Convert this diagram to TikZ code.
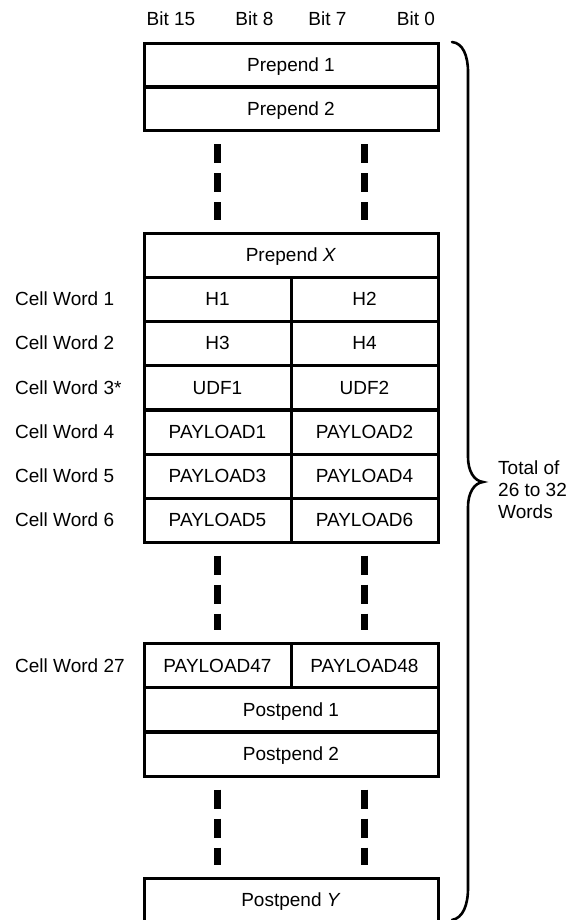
\documentclass[tikz,border=0pt]{standalone}
\usepackage{fontspec}
\setmainfont{Liberation Sans}
\begin{document}
\begin{tikzpicture}[x=1bp,y=-1bp,
  every node/.style={font=\fontsize{19bp}{22bp}\selectfont, inner sep=0pt},
  full/.style={draw, line width=3bp, minimum width=294bp, minimum height=44bp, text height=13.6bp, text depth=0pt},
  half/.style={draw, line width=3bp, minimum width=147bp, minimum height=44bp, text height=13.6bp, text depth=0pt},
  lbl/.style={anchor=west, text height=13.6bp, text depth=0pt},
  bitlbl/.style={text height=13.6bp, text depth=0pt},
  gap/.style={line width=7bp, dash pattern=on 19bp off 10bp, shorten <=12bp, shorten >=12bp},
  brace/.style={line width=2.6bp, line cap=round}]
\useasboundingbox (0,0) rectangle (571,920);
\clip (0,0) rectangle (571,920);

% bit labels
\node[bitlbl] (b15) at (171,19) {Bit 15};
\node[bitlbl] (b8) at (254.5,19) {Bit 8};
\node[bitlbl] (b7) at (327.5,19) {Bit 7};
\node[bitlbl] (b0) at (416,19) {Bit 0};

% prepend rows
\node[full] (p1) at (291,65) {Prepend 1};
\node[full] (p2) at (291,108.5) {Prepend 2};
\node[full] (px) at (291,255) {Prepend \textit{X}};

% cell words
\node[half] (h1) at (217.5,299) {H1};
\node[half] (h2) at (364.5,299) {H2};
\node[half] (h3) at (217.5,343) {H3};
\node[half] (h4) at (364.5,343) {H4};
\node[half] (u1) at (217.5,387.5) {UDF1};
\node[half] (u2) at (364.5,387.5) {UDF2};
\node[half] (pl1) at (217.5,432) {PAYLOAD1};
\node[half] (pl2) at (364.5,432) {PAYLOAD2};
\node[half] (pl3) at (217.5,476) {PAYLOAD3};
\node[half] (pl4) at (364.5,476) {PAYLOAD4};
\node[half] (pl5) at (217.5,520) {PAYLOAD5};
\node[half] (pl6) at (364.5,520) {PAYLOAD6};
\node[half] (pl47) at (217.5,665.5) {PAYLOAD47};
\node[half] (pl48) at (364.5,665.5) {PAYLOAD48};

% postpend rows
\node[full] (q1) at (291,709.5) {Postpend 1};
\node[full] (q2) at (291,754) {Postpend 2};
\node[full] (qy) at (291,900) {Postpend \textit{Y}};

% row labels
\node[lbl] (c1) at (15,299) {Cell Word 1};
\node[lbl] (c2) at (15,343) {Cell Word 2};
\node[lbl] (c3) at (15,387.5) {Cell Word 3*};
\node[lbl] (c4) at (15,432) {Cell Word 4};
\node[lbl] (c5) at (15,476) {Cell Word 5};
\node[lbl] (c6) at (15,520) {Cell Word 6};
\node[lbl] (c27) at (15,665.5) {Cell Word 27};

% continuation dashes
\draw[gap] (p2.south -| h1) -- (px.north -| h1);
\draw[gap] (p2.south -| h2) -- (px.north -| h2);
\draw[gap] (pl5.south) -- (pl47.north);
\draw[gap] (pl6.south) -- (pl48.north);
\draw[gap] (q2.south -| pl47) -- (qy.north -| pl47);
\draw[gap] (q2.south -| pl48) -- (qy.north -| pl48);

% brace
\coordinate (bt) at (452,42);
\coordinate (btip) at (483,482);
\coordinate (bb) at (452,920);
\draw[brace] (bt) .. controls (463,43) and (468,56) .. (468,72)
  -- (468,457) .. controls (468,471) and (474,481) .. (btip)
  .. controls (474,483) and (468,493) .. (468,507)
  -- (468,888) .. controls (468,905) and (463,918) .. (bb);

\node[align=left, anchor=west] (tot) at (498,490) {Total of\\26 to 32\\Words};
\end{tikzpicture}
\end{document}
